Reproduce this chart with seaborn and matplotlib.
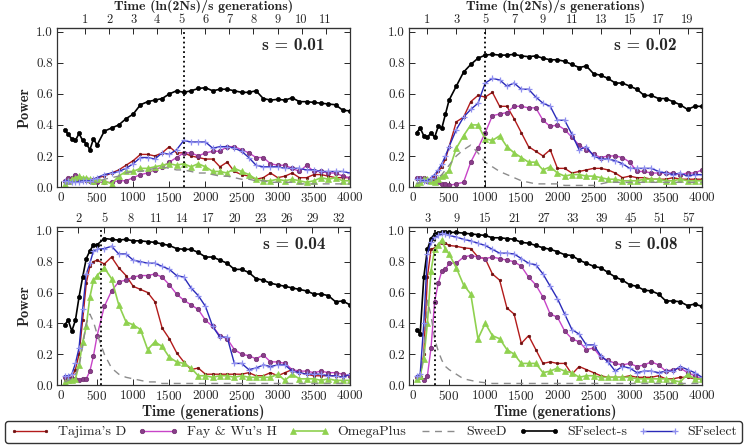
import numpy as np
import pandas as pd
import matplotlib
matplotlib.use("Agg")
import matplotlib.pyplot as plt
import seaborn as sns

# generations sampled (x axis)
gens = [50, 100, 150, 200, 250, 300, 350, 400, 450, 500,
        600, 700, 800, 900, 1000, 1100, 1200, 1300, 1400, 1500,
        1600, 1700, 1800, 1900, 2000, 2100, 2200, 2300, 2400, 2500,
        2600, 2700, 2800, 2900, 3000, 3100, 3200, 3300, 3400, 3500,
        3600, 3700, 3800, 3900, 4000]

methods = ["Tajima's D", "Fay & Wu's H", "OmegaPlus", "SweeD", "SFselect-s", "SFselect"]
s_labels = ["s = 0.01", "s = 0.02", "s = 0.04", "s = 0.08"]

# top axis: ticks in units of ln(2Ns)/s generations
top_unit = [333, 200, 120, 67]
top_ticks = [list(range(1, 12)), list(range(1, 20, 2)), list(range(2, 33, 3)), list(range(3, 58, 6))]
fix_time = [1700, 1000, 560, 310]

# ---- s = 0.01
p1_taj = [0.04, 0.05, 0.05, 0.05, 0.04, 0.05, 0.04, 0.04, 0.05, 0.06,
          0.07, 0.09, 0.11, 0.14, 0.17, 0.21, 0.21, 0.20, 0.22, 0.26,
          0.22, 0.22, 0.20, 0.19, 0.18, 0.18, 0.13, 0.16, 0.10, 0.08,
          0.07, 0.05, 0.06, 0.09, 0.06, 0.07, 0.09, 0.06, 0.06, 0.08,
          0.08, 0.07, 0.06, 0.06, 0.06]
p1_fwh = [0.04, 0.06, 0.06, 0.08, 0.06, 0.05, 0.05, 0.04, 0.03, 0.03,
          0.03, 0.03, 0.04, 0.04, 0.06, 0.08, 0.09, 0.11, 0.13, 0.16,
          0.19, 0.22, 0.22, 0.20, 0.22, 0.23, 0.23, 0.26, 0.26, 0.24,
          0.22, 0.19, 0.19, 0.15, 0.14, 0.14, 0.12, 0.10, 0.14, 0.10,
          0.10, 0.09, 0.09, 0.07, 0.06]
p1_omega = [0.02, 0.04, 0.05, 0.06, 0.07, 0.06, 0.06, 0.05, 0.04, 0.05,
            0.04, 0.02, 0.07, 0.10, 0.10, 0.12, 0.12, 0.13, 0.14, 0.15,
            0.14, 0.15, 0.13, 0.15, 0.13, 0.10, 0.10, 0.09, 0.12, 0.10,
            0.08, 0.05, 0.04, 0.04, 0.05, 0.04, 0.05, 0.04, 0.03, 0.04,
            0.06, 0.05, 0.06, 0.04, 0.04]
p1_sweed = [0.02, 0.02, 0.02, 0.03, 0.03, 0.03, 0.03, 0.03, 0.03, 0.03,
            0.05, 0.06, 0.07, 0.09, 0.10, 0.10, 0.11, 0.12, 0.13, 0.12,
            0.11, 0.11, 0.10, 0.09, 0.09, 0.08, 0.07, 0.07, 0.06, 0.05,
            0.05, 0.04, 0.04, 0.03, 0.03, 0.03, 0.03, 0.02, 0.02, 0.02,
            0.02, 0.02, 0.02, 0.02, 0.02]
p1_sfs = [0.37, 0.34, 0.31, 0.30, 0.345, 0.30, 0.28, 0.24, 0.31, 0.27,
          0.36, 0.38, 0.40, 0.44, 0.47, 0.53, 0.55, 0.56, 0.57, 0.60,
          0.62, 0.61, 0.62, 0.635, 0.64, 0.62, 0.63, 0.63, 0.62, 0.61,
          0.61, 0.62, 0.57, 0.56, 0.565, 0.56, 0.575, 0.55, 0.55, 0.545,
          0.54, 0.535, 0.53, 0.495, 0.49]
p1_sf = [0.04, 0.04, 0.03, 0.03, 0.035, 0.04, 0.04, 0.04, 0.05, 0.06,
         0.08, 0.09, 0.10, 0.12, 0.15, 0.19, 0.19, 0.18, 0.22, 0.21,
         0.24, 0.30, 0.29, 0.29, 0.29, 0.25, 0.26, 0.26, 0.25, 0.23,
         0.19, 0.14, 0.13, 0.13, 0.13, 0.12, 0.12, 0.12, 0.11, 0.11,
         0.10, 0.10, 0.10, 0.10, 0.09]

# ---- s = 0.02
p2_taj = [0.05, 0.05, 0.04, 0.04, 0.05, 0.07, 0.10, 0.13, 0.18, 0.26,
          0.42, 0.45, 0.55, 0.59, 0.58, 0.61, 0.52, 0.52, 0.44, 0.35,
          0.26, 0.23, 0.20, 0.24, 0.12, 0.12, 0.09, 0.10, 0.11, 0.12,
          0.12, 0.11, 0.09, 0.06, 0.07, 0.06, 0.06, 0.05, 0.05, 0.05,
          0.06, 0.05, 0.05, 0.05, 0.05]
p2_fwh = [0.06, 0.06, 0.06, 0.04, 0.04, 0.05, 0.03, 0.02, 0.02, 0.01,
          0.02, 0.03, 0.16, 0.25, 0.35, 0.46, 0.47, 0.48, 0.52, 0.52,
          0.51, 0.51, 0.43, 0.39, 0.40, 0.37, 0.32, 0.27, 0.24, 0.21,
          0.19, 0.20, 0.20, 0.19, 0.16, 0.10, 0.10, 0.09, 0.09, 0.09,
          0.09, 0.08, 0.09, 0.09, 0.11]
p2_omega = [0.02, 0.03, 0.05, 0.05, 0.04, 0.03, 0.05, 0.07, 0.08, 0.11,
            0.25, 0.33, 0.40, 0.40, 0.31, 0.30, 0.33, 0.26, 0.22, 0.19,
            0.16, 0.16, 0.11, 0.13, 0.09, 0.07, 0.08, 0.08, 0.07, 0.07,
            0.06, 0.05, 0.05, 0.04, 0.04, 0.04, 0.05, 0.05, 0.05, 0.04,
            0.04, 0.05, 0.04, 0.04, 0.04]
p2_sweed = [0.02, 0.03, 0.04, 0.05, 0.05, 0.05, 0.06, 0.08, 0.11, 0.14,
            0.20, 0.24, 0.27, 0.22, 0.16, 0.13, 0.10, 0.08, 0.06, 0.04,
            0.03, 0.02, 0.02, 0.02, 0.02, 0.01, 0.01, 0.01, 0.01, 0.01,
            0.02, 0.03, 0.03, 0.03, 0.03, 0.03, 0.03, 0.03, 0.03, 0.03,
            0.03, 0.03, 0.03, 0.03, 0.03]
p2_sfs = [0.35, 0.38, 0.33, 0.32, 0.35, 0.32, 0.39, 0.38, 0.47, 0.56,
          0.65, 0.74, 0.79, 0.83, 0.85, 0.855, 0.85, 0.85, 0.855, 0.845,
          0.84, 0.845, 0.83, 0.82, 0.82, 0.81, 0.79, 0.77, 0.78, 0.73,
          0.72, 0.70, 0.67, 0.67, 0.65, 0.63, 0.59, 0.59, 0.57, 0.57,
          0.55, 0.53, 0.50, 0.52, 0.52]
p2_sf = [0.05, 0.05, 0.04, 0.04, 0.06, 0.08, 0.11, 0.15, 0.20, 0.26,
         0.37, 0.45, 0.50, 0.54, 0.67, 0.70, 0.69, 0.65, 0.67, 0.63,
         0.63, 0.58, 0.54, 0.52, 0.43, 0.43, 0.34, 0.24, 0.26, 0.20,
         0.18, 0.18, 0.17, 0.15, 0.12, 0.12, 0.12, 0.12, 0.10, 0.09,
         0.08, 0.09, 0.07, 0.08, 0.08]

# ---- s = 0.04
p3_taj = [0.04, 0.05, 0.05, 0.10, 0.20, 0.42, 0.66, 0.77, 0.80, 0.81,
          0.785, 0.83, 0.76, 0.71, 0.64, 0.62, 0.60, 0.54, 0.37, 0.30,
          0.21, 0.15, 0.10, 0.11, 0.07, 0.07, 0.07, 0.07, 0.07, 0.07,
          0.08, 0.06, 0.06, 0.08, 0.06, 0.08, 0.10, 0.08, 0.07, 0.06,
          0.06, 0.06, 0.06, 0.05, 0.07]
p3_fwh = [0.05, 0.04, 0.04, 0.04, 0.03, 0.04, 0.04, 0.09, 0.19, 0.32,
          0.51, 0.61, 0.67, 0.68, 0.70, 0.71, 0.71, 0.72, 0.70, 0.65,
          0.59, 0.55, 0.52, 0.49, 0.42, 0.38, 0.32, 0.30, 0.23, 0.20,
          0.19, 0.17, 0.195, 0.15, 0.15, 0.14, 0.10, 0.09, 0.09, 0.08,
          0.09, 0.08, 0.08, 0.07, 0.06]
p3_omega = [0.02, 0.03, 0.03, 0.04, 0.13, 0.28, 0.38, 0.57, 0.68, 0.71,
            0.76, 0.69, 0.52, 0.41, 0.39, 0.36, 0.23, 0.28, 0.25, 0.18,
            0.15, 0.14, 0.11, 0.06, 0.06, 0.05, 0.06, 0.06, 0.05, 0.06,
            0.05, 0.05, 0.05, 0.05, 0.07, 0.03, 0.07, 0.04, 0.04, 0.04,
            0.03, 0.04, 0.03, 0.03, 0.03]
p3_sweed = [0.02, 0.03, 0.04, 0.07, 0.12, 0.25, 0.40, 0.46, 0.41, 0.33,
            0.20, 0.11, 0.07, 0.05, 0.04, 0.03, 0.02, 0.02, 0.01, 0.01,
            0.01, 0.01, 0.01, 0.01, 0.01, 0.01, 0.01, 0.01, 0.01, 0.01,
            0.01, 0.01, 0.01, 0.01, 0.01, 0.01, 0.01, 0.01, 0.01, 0.01,
            0.01, 0.01, 0.01, 0.01, 0.01]
p3_sfs = [0.39, 0.42, 0.35, 0.42, 0.57, 0.70, 0.82, 0.87, 0.91, 0.91,
          0.95, 0.945, 0.94, 0.945, 0.935, 0.935, 0.93, 0.925, 0.915, 0.905,
          0.885, 0.88, 0.88, 0.86, 0.83, 0.83, 0.81, 0.79, 0.75, 0.75,
          0.73, 0.69, 0.68, 0.66, 0.65, 0.64, 0.63, 0.62, 0.61, 0.59,
          0.59, 0.58, 0.54, 0.545, 0.52]
p3_sf = [0.06, 0.06, 0.07, 0.14, 0.24, 0.49, 0.72, 0.79, 0.87, 0.88,
         0.885, 0.90, 0.85, 0.85, 0.81, 0.80, 0.79, 0.79, 0.77, 0.75,
         0.71, 0.70, 0.63, 0.58, 0.51, 0.38, 0.31, 0.31, 0.14, 0.14,
         0.10, 0.11, 0.13, 0.12, 0.13, 0.13, 0.09, 0.08, 0.07, 0.07,
         0.07, 0.06, 0.06, 0.05, 0.07]

# ---- s = 0.08
p4_taj = [0.05, 0.06, 0.20, 0.70, 0.88, 0.89, 0.91, 0.92, 0.92, 0.905,
          0.90, 0.89, 0.885, 0.83, 0.82, 0.72, 0.68, 0.50, 0.46, 0.27,
          0.32, 0.23, 0.14, 0.15, 0.14, 0.14, 0.07, 0.12, 0.10, 0.08,
          0.06, 0.05, 0.05, 0.05, 0.06, 0.05, 0.05, 0.05, 0.06, 0.04,
          0.04, 0.05, 0.05, 0.04, 0.04]
p4_fwh = [0.05, 0.05, 0.03, 0.06, 0.24, 0.54, 0.66, 0.74, 0.75, 0.79,
          0.79, 0.83, 0.84, 0.83, 0.82, 0.83, 0.82, 0.81, 0.80, 0.77,
          0.70, 0.65, 0.57, 0.46, 0.44, 0.35, 0.30, 0.28, 0.23, 0.24,
          0.18, 0.16, 0.14, 0.13, 0.14, 0.12, 0.13, 0.15, 0.13, 0.09,
          0.10, 0.11, 0.08, 0.06, 0.04]
p4_omega = [0.04, 0.06, 0.17, 0.40, 0.74, 0.88, 0.91, 0.94, 0.88, 0.85,
            0.76, 0.65, 0.59, 0.30, 0.40, 0.32, 0.30, 0.23, 0.20, 0.14,
            0.14, 0.14, 0.08, 0.09, 0.11, 0.09, 0.08, 0.05, 0.06, 0.06,
            0.05, 0.05, 0.05, 0.05, 0.05, 0.04, 0.04, 0.04, 0.04, 0.04,
            0.03, 0.02, 0.07, 0.04, 0.04]
p4_sweed = [0.04, 0.06, 0.20, 0.55, 0.45, 0.30, 0.22, 0.16, 0.12, 0.10,
            0.07, 0.04, 0.03, 0.02, 0.015, 0.01, 0.01, 0.01, 0.01, 0.01,
            0.01, 0.01, 0.01, 0.01, 0.01, 0.01, 0.01, 0.01, 0.01, 0.01,
            0.01, 0.01, 0.01, 0.01, 0.01, 0.01, 0.01, 0.01, 0.01, 0.01,
            0.01, 0.01, 0.01, 0.01, 0.01]
p4_sfs = [0.36, 0.33, 0.70, 0.88, 0.95, 0.98, 0.985, 0.99, 0.99, 0.99,
          0.99, 0.985, 0.98, 0.975, 0.97, 0.955, 0.955, 0.95, 0.945, 0.925,
          0.92, 0.905, 0.89, 0.88, 0.865, 0.845, 0.84, 0.81, 0.79, 0.77,
          0.76, 0.73, 0.70, 0.68, 0.65, 0.64, 0.615, 0.61, 0.59, 0.545,
          0.545, 0.54, 0.515, 0.525, 0.51]
p4_sf = [0.06, 0.07, 0.40, 0.85, 0.93, 0.96, 0.97, 0.985, 0.98, 0.97,
         0.96, 0.945, 0.935, 0.92, 0.905, 0.88, 0.855, 0.855, 0.85, 0.82,
         0.79, 0.78, 0.72, 0.64, 0.56, 0.46, 0.36, 0.33, 0.26, 0.26,
         0.19, 0.15, 0.09, 0.12, 0.11, 0.08, 0.09, 0.09, 0.08, 0.09,
         0.09, 0.12, 0.10, 0.08, 0.05]

panels = [
    [p1_taj, p1_fwh, p1_omega, p1_sweed, p1_sfs, p1_sf],
    [p2_taj, p2_fwh, p2_omega, p2_sweed, p2_sfs, p2_sf],
    [p3_taj, p3_fwh, p3_omega, p3_sweed, p3_sfs, p3_sf],
    [p4_taj, p4_fwh, p4_omega, p4_sweed, p4_sfs, p4_sf],
]

# line styles per method
styles = {
    "Tajima's D": dict(color="#b31b1b", marker="o", markersize=1.8, markerfacecolor="#6e0e0e",
                       markeredgecolor="#6e0e0e", markeredgewidth=0.5, linewidth=1.0),
    "Fay & Wu's H": dict(color="#c844c8", marker="o", markersize=3.2, markerfacecolor="#8a3d8a",
                         markeredgecolor="#6e2c6e", markeredgewidth=0.5, linewidth=1.0),
    "OmegaPlus": dict(color="#8fd14f", marker="^", markersize=4.8, markerfacecolor="#8fd14f",
                      markeredgecolor="#8fd14f", markeredgewidth=0.5, linewidth=1.2),
    "SweeD": dict(color="#8c8c8c", linestyle=(0, (5, 4)), linewidth=1.0),
    "SFselect-s": dict(color="black", marker="o", markersize=3, markerfacecolor="black",
                       markeredgecolor="black", markeredgewidth=0.5, linewidth=1.2),
    "SFselect": dict(color="#2a2ab8", marker="+", markersize=5, markeredgecolor="#8f8ff0",
                     markeredgewidth=0.9, linewidth=1.0),
}

sns.set_style("ticks")
plt.rcParams["font.family"] = ["cmr10", "DejaVu Serif"]
plt.rcParams["axes.formatter.use_mathtext"] = True
plt.rcParams["mathtext.fontset"] = "cm"
bold = dict(family=["cmb10", "DejaVu Serif"], fontsize=10.5)

fig = plt.figure(figsize=(7.47, 4.47), dpi=100)
boxes = [[0.0763, 0.5817, 0.3922, 0.3557], [0.5475, 0.5817, 0.3922, 0.3557],
         [0.0763, 0.1387, 0.3922, 0.3535], [0.5475, 0.1387, 0.3922, 0.3535]]

handles = None
for i, box in enumerate(boxes):
    ax = fig.add_axes(box)
    for name, vals in zip(methods, panels[i]):
        df = pd.DataFrame({"gen": gens, "power": vals})
        sns.lineplot(data=df, x="gen", y="power", ax=ax, label=name, **styles[name])
    if handles is None:
        handles, labels = ax.get_legend_handles_labels()
    ax.get_legend().remove()
    ax.axvline(fix_time[i], color="black", linestyle=":", linewidth=1.3)
    ax.set_xlim(-55, 4000)
    ax.set_ylim(0, 1.025)
    ax.set_xticks(np.arange(0, 4001, 500))
    ax.set_yticks(np.arange(0, 1.01, 0.2))
    ax.yaxis.set_major_formatter(matplotlib.ticker.FormatStrFormatter("%.1f"))
    ax.tick_params(direction="in", right=True, labelsize=9.5, length=4, width=0.7, pad=3)
    for sp in ax.spines.values():
        sp.set_linewidth(0.9)
        sp.set_color("#333333")
    ax.set_xlabel("Time (generations)" if i >= 2 else "", labelpad=1, **bold)
    ax.set_ylabel("Power" if i % 2 == 0 else "", labelpad=3, **bold)
    ax.text(0.915, 0.89, s_labels[i], transform=ax.transAxes, ha="right", va="center",
            family=["cmb10", "DejaVu Serif"], fontsize=12.5)

    sec = ax.secondary_xaxis("top")
    sec.set_xticks([k * top_unit[i] for k in top_ticks[i]])
    sec.set_xticklabels([str(k) for k in top_ticks[i]])
    sec.tick_params(direction="in", labelsize=9, length=4, width=0.7, pad=1.5)
    if i < 2:
        sec.set_xlabel("Time (ln(2Ns)/s generations)", labelpad=2.5,
                       family=["cmb10", "DejaVu Serif"], fontsize=10)

leg = fig.legend(handles, labels, loc="center", ncol=6,
                 bbox_to_anchor=(0.5, 15 / 447),
                 fontsize=10, handlelength=2.9, numpoints=2, frameon=True,
                 fancybox=True, borderpad=0.3, handletextpad=0.6, columnspacing=0.85)
leg.get_frame().set_edgecolor("black")
leg.get_frame().set_linewidth(1.0)

fig.savefig("out.png", dpi=100)
